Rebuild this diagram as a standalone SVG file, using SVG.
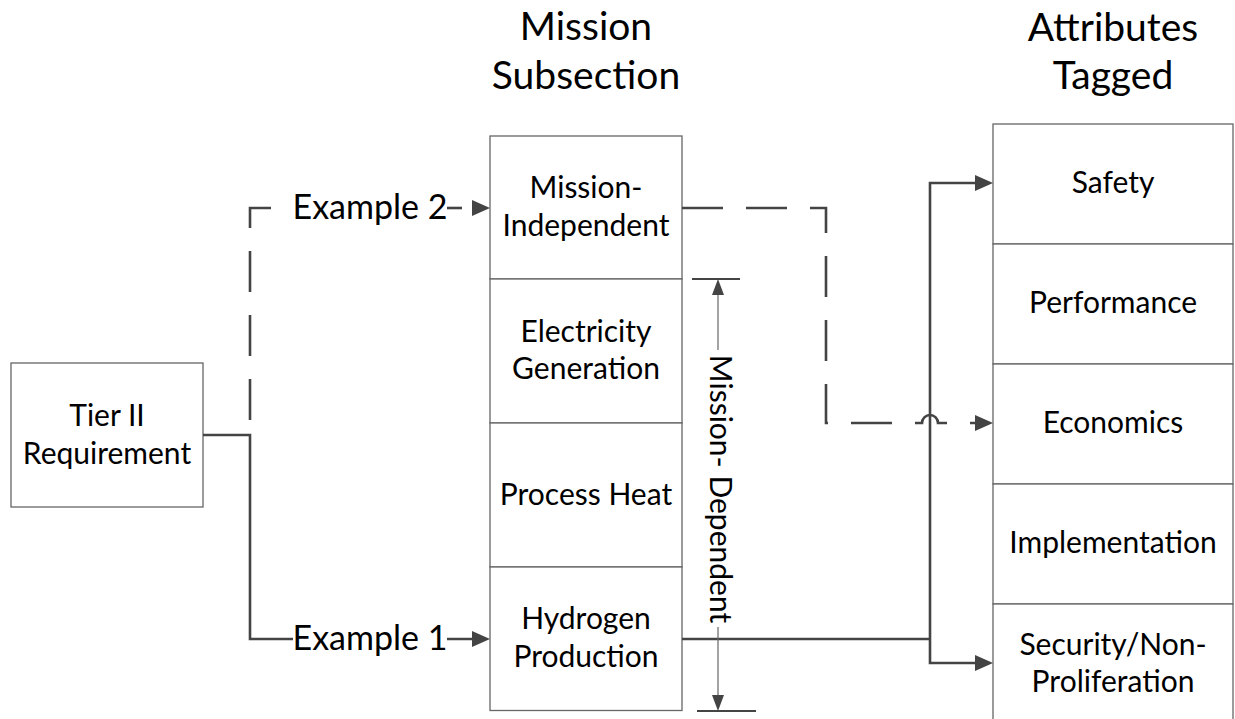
<svg xmlns="http://www.w3.org/2000/svg" width="1235" height="719" viewBox="0 0 1235 719">
<style>
text{font-family:Lato,"Open Sans","Liberation Sans",sans-serif;fill:#000;text-anchor:middle}
.t{font-size:30px}
.h{font-size:39px}
.l{font-size:34px}
.box{fill:#fff;stroke:#666;stroke-width:1.3}
.c{fill:none;stroke:#444;stroke-width:2.6}
.d{fill:none;stroke:#444;stroke-width:2.6;stroke-dasharray:41 23}
.dim{fill:none;stroke:#666;stroke-width:1.2}
.tick{fill:none;stroke:#444;stroke-width:2}
</style>
<defs>
<marker id="ah" markerUnits="userSpaceOnUse" viewBox="0 0 18 16" refX="10" refY="8" markerWidth="18" markerHeight="16" orient="auto">
<path d="M0,0 L18,8 L0,16 z" fill="#444" stroke="none"/>
</marker>
<marker id="ad" markerUnits="userSpaceOnUse" viewBox="0 0 16 12" refX="8" refY="6" markerWidth="16" markerHeight="12" orient="auto">
<path d="M0,0 L16,6 L0,12 z" fill="#444" stroke="none"/>
</marker>
</defs>
<rect width="1235" height="719" fill="#fff"/>

<g id="title-mission">
<text class="h" x="586" y="40">Mission</text>
<text class="h" x="586" y="89">Subsection</text>
</g>
<g id="title-attributes">
<text class="h" x="1113" y="41">Attributes</text>
<text class="h" x="1113" y="89">Tagged</text>
</g>

<g id="tier2">
<rect class="box" x="11" y="363" width="192" height="144"/>
<text class="t" x="107" y="426">Tier II</text>
<text class="t" x="107" y="464">Requirement</text>
</g>

<g id="mission-independent">
<rect class="box" x="490" y="136" width="192" height="143"/>
<text class="t" x="586" y="198">Mission-</text>
<text class="t" x="586" y="236">Independent</text>
</g>
<g id="electricity-generation">
<rect class="box" x="490" y="279" width="192" height="144"/>
<text class="t" x="586" y="342">Electricity</text>
<text class="t" x="586" y="379">Generation</text>
</g>
<g id="process-heat">
<rect class="box" x="490" y="423" width="192" height="144"/>
<text class="t" x="586" y="505">Process Heat</text>
</g>
<g id="hydrogen-production">
<rect class="box" x="490" y="567" width="192" height="143.5"/>
<text class="t" x="586" y="629">Hydrogen</text>
<text class="t" x="586" y="667">Production</text>
</g>

<g id="safety">
<rect class="box" x="993" y="124" width="240" height="120"/>
<text class="t" x="1113" y="193">Safety</text>
</g>
<g id="performance">
<rect class="box" x="993" y="244" width="240" height="120"/>
<text class="t" x="1113" y="313">Performance</text>
</g>
<g id="economics">
<rect class="box" x="993" y="364" width="240" height="120"/>
<text class="t" x="1113" y="433">Economics</text>
</g>
<g id="implementation">
<rect class="box" x="993" y="484" width="240" height="120"/>
<text class="t" x="1113" y="553">Implementation</text>
</g>
<g id="security">
<rect class="box" x="993" y="604" width="240" height="120"/>
<text class="t" x="1113" y="655">Security/Non-</text>
<text class="t" x="1113" y="692">Proliferation</text>
</g>

<g id="connectors">
<path class="c" d="M203,435 H250 V639 H293"/>
<path class="c" d="M447,639 H482" marker-end="url(#ah)"/>
<path class="d" style="stroke-dashoffset:49" d="M250,435 V208 H293"/>
<path class="c" d="M447,208 H462"/>
<path class="c" d="M472,208 H482" marker-end="url(#ah)"/>
<path class="d" d="M682,208 H826 V423 H922 A8,8 0 0 1 938,423 H985" marker-end="url(#ah)"/>
<path class="c" d="M682,639 H930"/>
<path class="c" d="M930,639 V183 H985" marker-end="url(#ah)"/>
<path class="c" d="M930,639 V663 H985" marker-end="url(#ah)"/>
<path class="dim" d="M718,350 V287" marker-end="url(#ad)"/>
<path class="dim" d="M718,627 V703" marker-end="url(#ad)"/>
<path class="tick" d="M692,279 H740"/>
<path class="tick" d="M697,711 H756"/>
</g>

<g id="labels">
<text class="l" x="370" y="219">Example 2</text>
<text class="l" x="370" y="650">Example 1</text>
<text class="t" transform="translate(710,489) rotate(90)">Mission- Dependent</text>
</g>
</svg>
